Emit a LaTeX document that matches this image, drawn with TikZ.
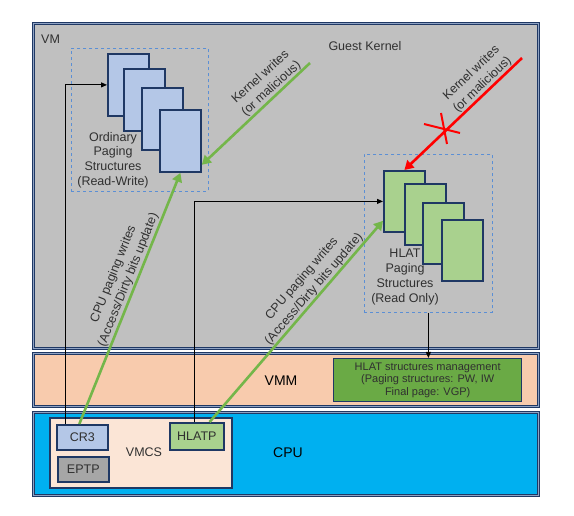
\documentclass[tikz,border=0pt]{standalone}
\usepackage{fontspec}
\setmainfont{Liberation Sans}
\usetikzlibrary{arrows.meta}
\definecolor{navy}{HTML}{1F3864}
\definecolor{navylight}{HTML}{8FA3C4}
\definecolor{vmgray}{HTML}{C0C0C0}
\definecolor{vmmpeach}{HTML}{F8CBAD}
\definecolor{cpublue}{HTML}{00B0F0}
\definecolor{vmcsfill}{HTML}{FBE5D6}
\definecolor{pageblue}{HTML}{B4C7E7}
\definecolor{pagegreen}{HTML}{A9D18E}
\definecolor{mgmtgreen}{HTML}{6AAA45}
\definecolor{arrowgreen}{HTML}{74B64A}
\definecolor{dashblue}{HTML}{5B8FD5}
\definecolor{eptpgray}{HTML}{A6A6A6}
\definecolor{textgray}{HTML}{303030}
\tikzset{
  layer/.style={draw=navy, line width=1pt, double=navylight, double distance=1pt, anchor=north west, inner sep=0pt},
  regbox/.style={draw=navy, line width=1.6pt, anchor=north west, inner sep=0pt, text=textgray},
  page/.style={draw=navy, line width=1.8pt, anchor=north west, minimum width=41pt, minimum height=62pt, inner sep=0pt},
  dashbox/.style={draw=dashblue, dashed, line width=0.8pt, anchor=north west, inner sep=0pt},
  blk/.style={black, line width=1pt, -{Triangle[length=6pt,width=5pt]}},
  grn/.style={arrowgreen, line width=2.6pt, -{Triangle[length=9pt,width=10pt]}},
  redarr/.style={red, line width=2.6pt, -{Triangle[length=9pt,width=10pt]}},
  lbl/.style={text=textgray, align=center, inner sep=0pt},
  rlbl/.style={lbl, font=\fontsize{12.5}{16}\selectfont},
  big/.style={font=\fontsize{14}{16}\selectfont, text=black}
}
\begin{document}
\begin{tikzpicture}[x=1pt,y=-1pt,font=\fontsize{12.5}{14.7}\selectfont]
\useasboundingbox (0,0) rectangle (574,516);
\fill[white] (0,0) rectangle (574,516);
% layers
\node[layer, fill=vmgray, minimum width=505pt, minimum height=325pt] (vm) at (33,23) {};
\node[layer, fill=vmmpeach, minimum width=505pt, minimum height=53pt] (vmm) at (33,353) {};
\node[layer, fill=cpublue, minimum width=505pt, minimum height=83pt] (cpu) at (33,412) {};
\node[lbl, anchor=west] (vmlbl) at (41,39) {VM};
\node[lbl] (gk) at (365,46) {Guest Kernel};
\node[big, inner sep=0pt] (vmmlbl) at (281,381) {VMM};
\node[big, inner sep=0pt] (cpulbl) at (288,453) {CPU};
% VMCS
\node[regbox, fill=vmcsfill, minimum width=182pt, minimum height=70pt] (vmcs) at (49,417) {};
\node[lbl] (vmcslbl) at (144,452) {VMCS};
\node[regbox, fill=pageblue, minimum width=51pt, minimum height=25pt] (cr3) at (56,424) {CR3};
\node[regbox, fill=eptpgray, minimum width=51pt, minimum height=25pt] (eptp) at (57,456) {EPTP};
\node[regbox, fill=pagegreen, minimum width=54pt, minimum height=27pt] (hlatp) at (169,422) {HLATP};
% management box
\node[regbox, fill=mgmtgreen, line width=1.4pt, minimum width=188pt, minimum height=43pt, align=center, font=\fontsize{11}{12.8}\selectfont] (mgmt) at (333,358) {HLAT structures management\\(Paging structures: PW, IW\\Final page: VGP)};
% ordinary structures
\node[dashbox, minimum width=137pt, minimum height=143pt] (ordbox) at (71,48) {};
\node[page, fill=pageblue] (p1) at (107,53) {};
\node[page, fill=pageblue] (p2) at (123,68) {};
\node[page, fill=pageblue] (p3) at (141,87) {};
\node[page, fill=pageblue] (p4) at (159,109) {};
\node[lbl] (ordlbl) at (113,160) {Ordinary\\Paging\\Structures\\(Read-Write)};
% HLAT structures
\node[dashbox, minimum width=128pt, minimum height=158pt] (hlatbox) at (364,154) {};
\node[page, fill=pagegreen, minimum height=61pt] (g1) at (383,170) {};
\node[page, fill=pagegreen, minimum height=61pt] (g2) at (404,183) {};
\node[page, fill=pagegreen, minimum height=61pt] (g3) at (422,202) {};
\node[page, fill=pagegreen, minimum height=61pt] (g4) at (441,219) {};
\node[lbl] (hlatlbl) at (405,277) {HLAT\\Paging\\Structures\\(Read Only)};
% black connectors
\draw[blk] ([xshift=9pt]cr3.north west) |- (p1.west);
\draw[blk] ([xshift=-2pt]hlatp.north) |- (g1.west);
\draw[blk] (hlatbox.south) -- (hlatbox.south |- mgmt.north);
% green arrows
\coordinate (kwstart) at (310,63);
\draw[grn] (kwstart) -- ([yshift=8pt]p4.south east);
\draw[grn] ([xshift=-3pt]cr3.north) -- (p4.south);
\draw[grn] ([xshift=-15pt]hlatp.north east) -- ([yshift=12pt]g1.south west);
% red arrow
\coordinate (rstart) at (522,58);
\draw[redarr] (rstart) -- (g1.north);
\draw[red, line width=2pt] (424,124) -- (460,133);
\draw[red, line width=2pt] (441,113) -- (447,144);
% rotated labels
\node[rlbl, rotate=42.3] (kwl) at (266,83) {Kernel writes\\(or malicious)};
\node[rlbl, rotate=43.5] (kwr) at (477,79) {Kernel writes\\(or malicious)};
\node[rlbl, rotate=68.2] (cpul) at (121,277) {CPU paging writes\\(Access/Dirty bits update)};
\node[rlbl, rotate=49.2] (cpur) at (308,284) {CPU paging writes\\(Access/Dirty bits update)};
\end{tikzpicture}
\end{document}
